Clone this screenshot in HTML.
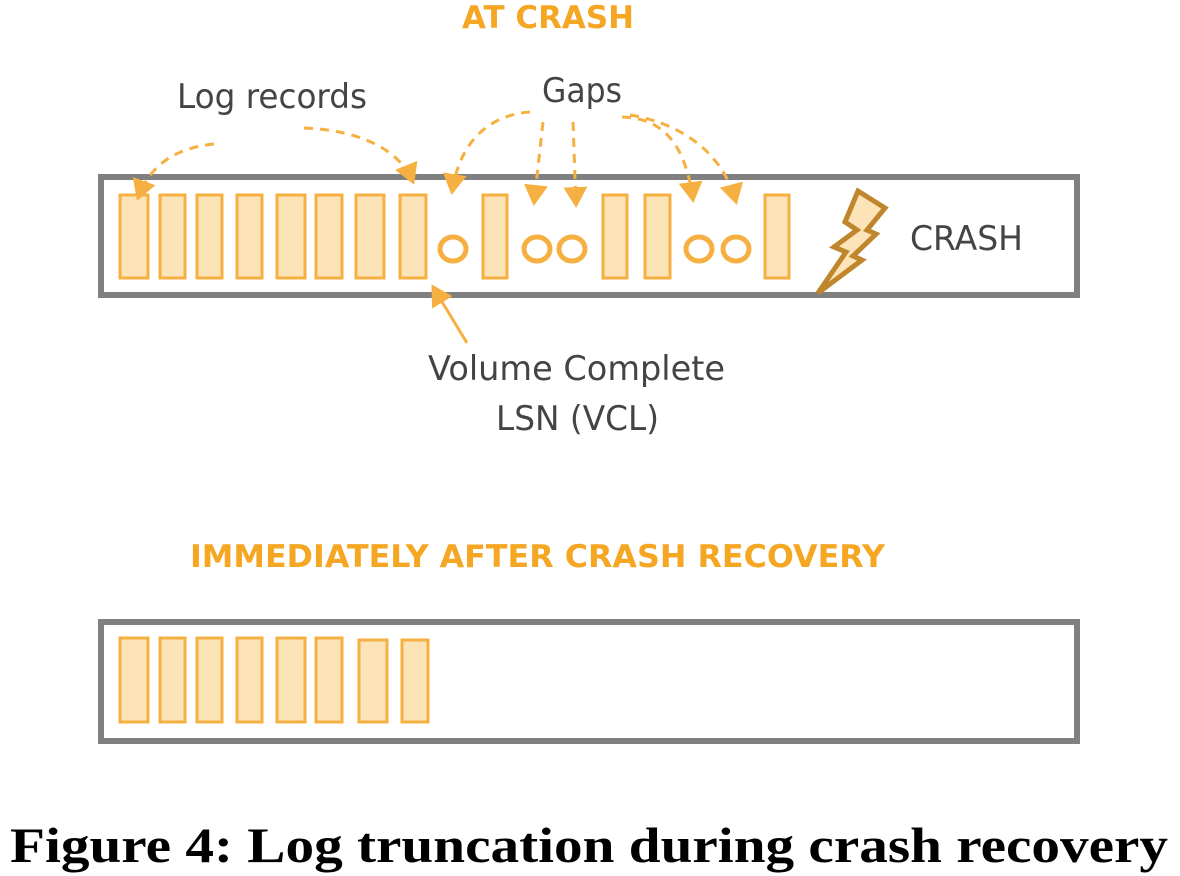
<!DOCTYPE html>
<html><head><style>
html,body{margin:0;padding:0;background:#fff;}
svg{display:block;}
.lbl{font-family:"DejaVu Sans","Liberation Sans",sans-serif;fill:#444;}
.or{font-family:"DejaVu Sans","Liberation Sans",sans-serif;fill:#f5a623;font-weight:bold;}
.r{fill:#fde3b8;stroke:#f5b041;stroke-width:3;}
.c{fill:none;stroke:#f5b041;stroke-width:5;}
.d{fill:none;stroke:#f5b041;stroke-width:3;stroke-dasharray:9 7;}
</style></head><body>
<svg width="1180" height="876" viewBox="0 0 1180 876" xmlns="http://www.w3.org/2000/svg">
<defs><marker id="a" markerWidth="8" markerHeight="8" refX="6" refY="4" orient="auto" markerUnits="strokeWidth"><path d="M0,0 L7,4 L0,8 z" fill="#f5b041"/></marker></defs>
<text class="or" x="548" y="28" font-size="31" text-anchor="middle" textLength="172" lengthAdjust="spacingAndGlyphs">AT CRASH</text>
<text class="lbl" x="177" y="108" font-size="34" textLength="190" lengthAdjust="spacingAndGlyphs">Log records</text>
<text class="lbl" x="542" y="102" font-size="34" textLength="80" lengthAdjust="spacingAndGlyphs">Gaps</text>
<rect x="101" y="177" width="976" height="118" fill="#fff" stroke="#808080" stroke-width="6"/>
<g class="r">
<rect x="120" y="195" width="28" height="83"/><rect x="160" y="195" width="25" height="83"/><rect x="197" y="195" width="25" height="83"/><rect x="237" y="195" width="25" height="83"/><rect x="277" y="195" width="28" height="83"/><rect x="316" y="195" width="26" height="83"/><rect x="356" y="195" width="28" height="83"/><rect x="400" y="195" width="26" height="83"/>
<rect x="483" y="195" width="24" height="83"/><rect x="603" y="195" width="24" height="83"/><rect x="645" y="195" width="25" height="83"/><rect x="765" y="195" width="24" height="83"/>
</g>
<g class="c"><ellipse cx="453" cy="249" rx="13" ry="12"/><ellipse cx="537" cy="249" rx="13" ry="12"/><ellipse cx="572" cy="249" rx="13" ry="12"/><ellipse cx="699" cy="249" rx="13" ry="12"/><ellipse cx="736" cy="249" rx="13" ry="12"/></g>
<g class="d" marker-end="url(#a)">
<path d="M214,144 C175,148 150,165 138,198"/>
<path d="M304,128 C360,130 400,150 413,182"/>
<path d="M530,112 C490,115 460,140 452,192"/>
<path d="M543,122 L534,203"/>
<path d="M573,122 L576,205"/>
<path d="M622,117 C660,118 685,140 693,200"/>
<path d="M630,115 C690,125 725,160 736,202"/>
</g>
<path d="M467,343 L433,287" stroke="#f5b041" stroke-width="3" fill="none" marker-end="url(#a)"/>
<polygon points="818,293 846,252 834,247 857,230 845,222 858,191 885,208 867,230 876,234 853,256 862,260" fill="#fde3b8" stroke="#c0862d" stroke-width="5" stroke-linejoin="miter"/>
<text class="lbl" x="910" y="250" font-size="34" textLength="113" lengthAdjust="spacingAndGlyphs">CRASH</text>
<text class="lbl" x="428" y="380" font-size="34" textLength="297" lengthAdjust="spacingAndGlyphs">Volume Complete</text>
<text class="lbl" x="496" y="430" font-size="34" textLength="163" lengthAdjust="spacingAndGlyphs">LSN (VCL)</text>
<text class="or" x="190" y="567" font-size="31" textLength="695" lengthAdjust="spacingAndGlyphs">IMMEDIATELY AFTER CRASH RECOVERY</text>
<rect x="101" y="622" width="976" height="119" fill="#fff" stroke="#808080" stroke-width="6"/>
<g class="r">
<rect x="120" y="638" width="28" height="84"/><rect x="160" y="638" width="25" height="84"/><rect x="197" y="638" width="25" height="84"/><rect x="237" y="638" width="25" height="84"/><rect x="277" y="638" width="28" height="84"/><rect x="316" y="638" width="26" height="84"/><rect x="359" y="640" width="28" height="82"/><rect x="402" y="640" width="26" height="82"/>
</g>
<text x="10" y="862" font-family="'Liberation Serif',serif" font-weight="bold" font-size="50" fill="#000" textLength="1158" lengthAdjust="spacingAndGlyphs">Figure 4: Log truncation during crash recovery</text>
</svg>
</body></html>
